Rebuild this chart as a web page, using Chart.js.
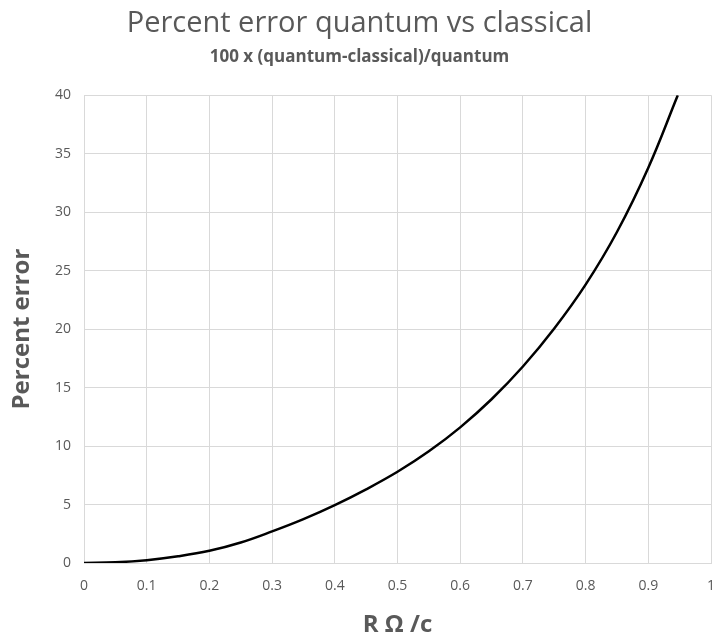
<!DOCTYPE html>
<html>
<head>
<meta charset="utf-8">
<script src="https://cdn.jsdelivr.net/npm/chart.js@4"></script>
<style>
  html, body { margin: 0; padding: 0; background: #ffffff; }
  #wrap { width: 717px; height: 640px; }
</style>
</head>
<body>
<div id="wrap"><canvas id="grafico"></canvas></div>
<script>
// valores
const razaoRC = [0, 0.05, 0.1, 0.15, 0.2, 0.25, 0.3, 0.35, 0.4, 0.45, 0.5, 0.55, 0.6, 0.65, 0.7, 0.75, 0.8, 0.85, 0.9, 0.947];
const erroPercentual = [0, 0.06, 0.24, 0.57, 1.04, 1.75, 2.7, 3.75, 4.95, 6.3, 7.8, 9.55, 11.6, 14.0, 16.8, 20.05, 23.8, 28.3, 33.8, 40.0];
const ticksX = [0, 0.1, 0.2, 0.3, 0.4, 0.5, 0.6, 0.7, 0.8, 0.9, 1];
const ticksY = [0, 5, 10, 15, 20, 25, 30, 35, 40];

const pontos = razaoRC.map((x, i) => ({ x: x, y: erroPercentual[i] }));

const fonte = "'Open Sans', 'Liberation Sans', sans-serif";
const cinza = '#595959';

const ctx = document.getElementById('grafico');

new Chart(ctx, {
    type: 'scatter',
    data: {
        datasets: [{
            label: 'Percent error',
            data: pontos,
            showLine: true,
            borderColor: '#000000',
            borderWidth: 2.5,
            pointRadius: 0,
            tension: 0.4,
            fill: false
        }]
    },
    options: {
        responsive: true,
        maintainAspectRatio: false,
        animation: false,
        layout: {
            padding: { left: 8, right: 6, top: 2, bottom: 0 }
        },
        plugins: {
            legend: { display: false },
            tooltip: { enabled: false },
            title: {
                display: true,
                text: 'Percent error quantum vs classical',
                color: cinza,
                font: { family: fonte, size: 29, weight: 'normal' },
                padding: { top: 4, bottom: 4 }
            },
            subtitle: {
                display: true,
                text: '100 x (quantum-classical)/quantum',
                color: cinza,
                font: { family: fonte, size: 17, weight: 'bold' },
                padding: { top: 2, bottom: 28 }
            }
        },
        scales: {
            x: {
                type: 'linear',
                min: 0,
                max: 1,
                afterBuildTicks: function (eixo) {
                    eixo.ticks = ticksX.map(v => ({ value: v }));
                },
                afterFit: function (eixo) {
                    eixo.height = 77;
                    eixo.paddingLeft = 0;
                    eixo.paddingRight = 0;
                },
                ticks: {
                    color: cinza,
                    font: { family: fonte, size: 14 },
                    padding: 15,
                    maxRotation: 0,
                    callback: v => String(v)
                },
                grid: { color: '#d9d9d9', drawTicks: false },
                border: { color: '#d9d9d9' },
                title: {
                    display: true,
                    text: 'R Ω /c',
                    color: cinza,
                    font: { family: fonte, size: 24, weight: 'bold' },
                    padding: { top: 4, bottom: 0 }
                }
            },
            y: {
                type: 'linear',
                min: 0,
                max: 40,
                afterBuildTicks: function (eixo) {
                    eixo.ticks = ticksY.map(v => ({ value: v }));
                },
                afterFit: function (eixo) {
                    eixo.width = 76;
                },
                ticks: {
                    color: cinza,
                    font: { family: fonte, size: 14 },
                    padding: 13
                },
                grid: { color: '#d9d9d9', drawTicks: false },
                border: { color: '#d9d9d9' },
                title: {
                    display: true,
                    text: 'Percent error',
                    color: cinza,
                    font: { family: fonte, size: 24, weight: 'bold' },
                    padding: { top: 0, bottom: 10 }
                }
            }
        }
    }
});
</script>
</body>
</html>
